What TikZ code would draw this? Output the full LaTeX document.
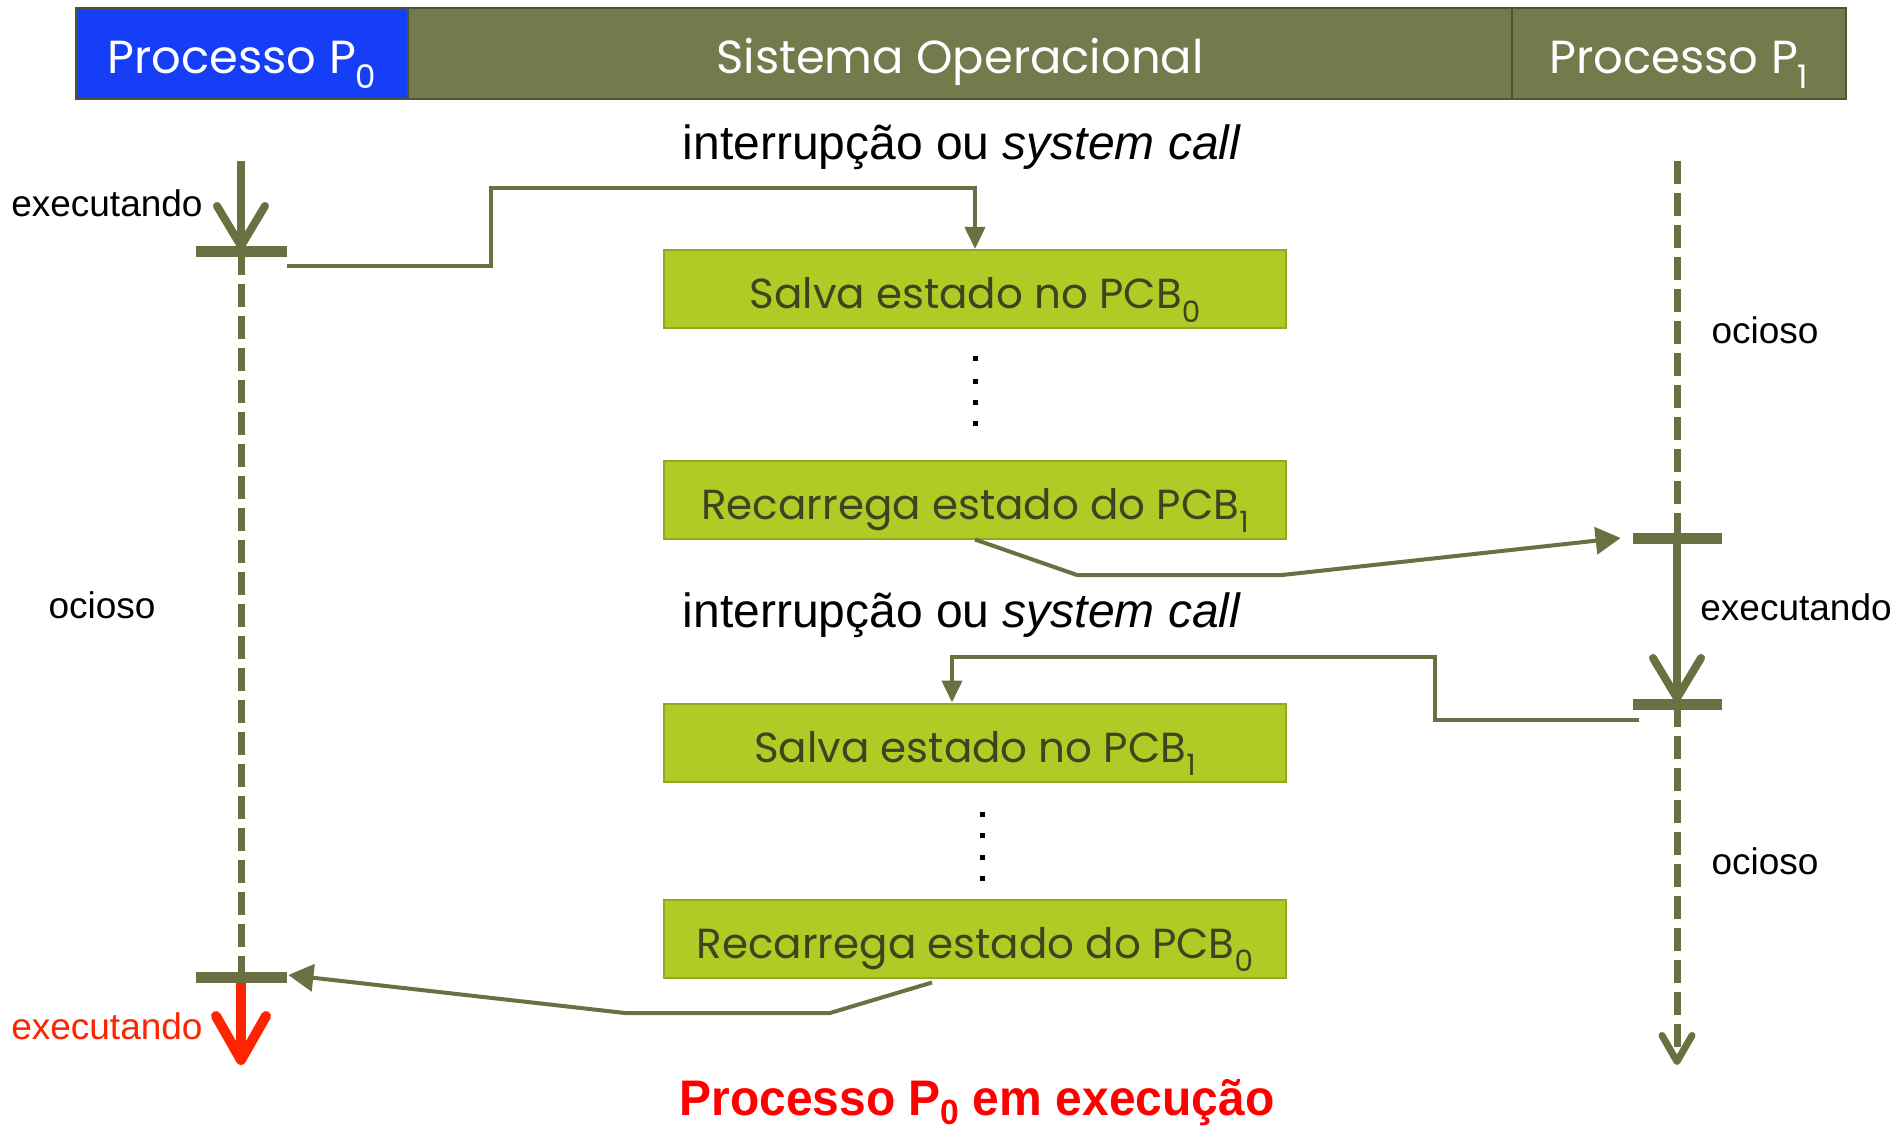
\documentclass[tikz,border=0pt]{standalone}
\usepackage{fontspec}
\setmainfont{Liberation Sans}
\newfontfamily\gothic{Poppins}
\usetikzlibrary{arrows.meta,calc}
\definecolor{pblue}{RGB}{22,62,247}
\definecolor{hdr}{RGB}{115,123,76}
\definecolor{hdrline}{RGB}{78,84,50}
\definecolor{ln}{RGB}{106,112,66}
\definecolor{boxg}{RGB}{176,202,38}
\definecolor{boxline}{RGB}{148,170,30}
\definecolor{boxtxt}{RGB}{62,68,32}
\definecolor{redarrow}{RGB}{255,36,0}
\newcommand\lsub[1]{\raisebox{-0.32em}{\scalebox{0.7}{#1}}}
\tikzset{
  hdrbox/.style={rectangle, draw=hdrline, line width=1pt, inner sep=0pt,
    minimum height=45.5pt, text height=20.5pt, text depth=0pt, text=white,
    font=\gothic\fontsize{23.2}{27}\selectfont},
  stepbox/.style={rectangle, fill=boxg, draw=boxline, line width=1pt, inner sep=0pt,
    minimum width=311pt, minimum height=39pt, text height=20pt, text depth=0pt,
    text=boxtxt, font=\gothic\fontsize{21}{25}\selectfont},
  tickbar/.style={rectangle, fill=ln, inner sep=0pt, minimum height=5.5pt},
  lbl/.style={inner sep=0pt, font=\fontsize{18.5}{22}\selectfont},
  biglbl/.style={inner sep=0pt, font=\fontsize{24}{28}\selectfont},
  vline/.style={draw=ln, line width=4pt},
  dline/.style={draw=ln, line width=3.5pt, dash pattern=on 11.5pt off 4.5pt},
  conn/.style={draw=ln, line width=2pt},
  vhead/.style={-{Straight Barb[length=20pt,width=24pt,round]}},
  smallhead/.style={-{Triangle[length=11pt,width=10pt]}},
  bighead/.style={-{Triangle[length=12.5pt,width=13.5pt]}},
}
\begin{document}
\begin{tikzpicture}[x=0.5pt,y=-0.5pt]
\useasboundingbox (0,0) rectangle (1897,1134);
\fill[white] (0,0) rectangle (1897,1134);

% header
\node[hdrbox, fill=pblue, minimum width=166pt] (hp0) at (242,53.5) {Processo P\lsub{0}};
\node[hdrbox, fill=hdr, minimum width=552pt] (hso) at (960,53.5) {Sistema Operacional};
\node[hdrbox, fill=hdr, minimum width=167pt] (hp1) at (1679,53.5) {Processo P\lsub{1}};

% boxes
\node[stepbox] (box1) at (975,289) {Salva estado no PCB\lsub{0}};
\node[stepbox] (box2) at (975,499.5) {Recarrega estado do PCB\lsub{1}};
\node[stepbox] (box3) at (975,742.5) {Salva estado no PCB\lsub{1}};
\node[stepbox] (box4) at (975,938.5) {Recarrega estado do PCB\lsub{0}};

% dots
\foreach \yy in {359,382,403,424} \fill (972.5,\yy-2.5) rectangle ++(5,5);
\foreach \yy in {814,835,857,878} \fill (979.5,\yy-2.5) rectangle ++(5,5);

% timeline coordinates
\coordinate (ltop) at (241,161);
\coordinate (lend) at (241,1065);
\coordinate (rtop) at (1677,161);
\coordinate (rend) at (1677,1065);

% left timeline
\draw[dline] (241,252) -- (241,977);
\draw[vline, vhead] (ltop) -- (241,250);
\draw[draw=redarrow, line width=5pt, -{Straight Barb[length=22pt,width=25pt,round]}] (241,977) -- (lend);
\node[tickbar, minimum width=45.5pt] (t1) at (241.5,252) {};
\node[tickbar, minimum width=45.5pt] (t2) at (241.5,977) {};

% right timeline
\draw[dline] (rtop) -- (1677,538);
\draw[dline, -{Straight Barb[length=13pt,width=15pt,round]}] (1677,704) -- (rend);
\draw[vline, vhead] (1677,538) -- (1677,702);
\node[tickbar, minimum width=44.5pt] (t3) at (1677.5,538) {};
\node[tickbar, minimum width=44.5pt] (t4) at (1677.5,704) {};

% connectors
\coordinate (c1s) at (287,266);
\draw[conn, smallhead] (c1s) -- (491,266) -- (491,188) -| (box1.north);
\draw[conn, bighead] (box2.south) -- (1077,575) -- (1282,575) -- ($(t3.west)+(-12,0)$);
\coordinate (c3s) at (1639,720);
\draw[conn, smallhead] (c3s) -- (1435,720) -- (1435,657) -| ($(box3.north)+(-23,0)$);
\draw[conn, bighead] ($(box4.south)+(-43,4)$) -- (830,1013) -- (625,1013) -- ($(t2.east)+(1,-2)$);

% labels
\node[lbl, anchor=east] (ex1) at (203,203) {executando};
\node[lbl] (oc1) at (102,605) {ocioso};
\node[lbl, anchor=east, text=redarrow] (ex2) at (203,1026) {executando};
\node[lbl] (oc2) at (1765,330) {ocioso};
\node[lbl, anchor=west] (ex3) at (1700,607) {executando};
\node[lbl] (oc3) at (1765,861) {ocioso};
\node[biglbl] (int1) at (962,147) {interrupção ou \textit{system call}};
\node[biglbl] (int2) at (962,615) {interrupção ou \textit{system call}};
\node[inner sep=0pt, text=red, font=\bfseries\fontsize{25}{30}\selectfont] (fin) at (977,1103)
  {\scalebox{0.96}[1]{Processo P\raisebox{-0.18em}{\scalebox{0.7}{0}} em execução}};
\end{tikzpicture}
\end{document}
